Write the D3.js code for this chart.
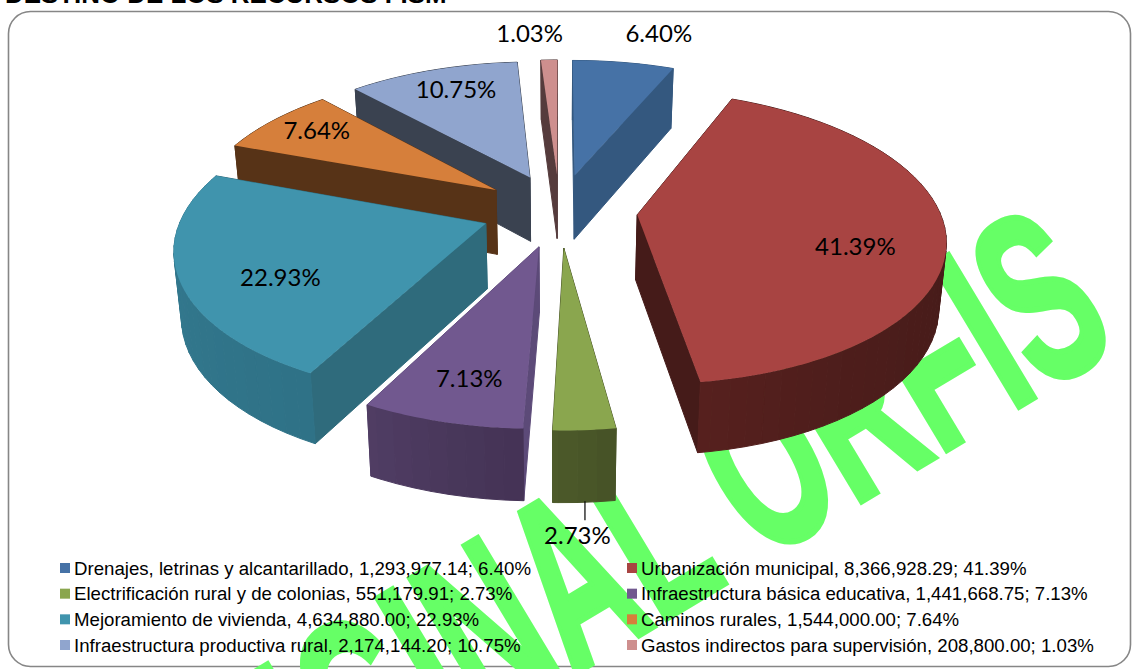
<!DOCTYPE html>
<html><head><meta charset="utf-8">
<script src="https://cdnjs.cloudflare.com/ajax/libs/d3/7.8.5/d3.min.js"></script>
<style>html,body{margin:0;padding:0;background:#fff;overflow:hidden}</style>
</head><body><svg id="c" width="1132" height="669"></svg>
<script>
const categories=["Drenajes, letrinas y alcantarillado","Urbanización municipal","Electrificación rural y de colonias","Infraestructura básica educativa","Mejoramiento de vivienda","Caminos rurales","Infraestructura productiva rural","Gastos indirectos para supervisión"];
const values=[1293977.14,8366928.29,551179.91,1441668.75,4634880.00,1544000.00,2174144.20,208800.00];
const valueLabels=["1,293,977.14","8,366,928.29","551,179.91","1,441,668.75","4,634,880.00","1,544,000.00","2,174,144.20","208,800.00"];
const percentLabels=["6.40%","41.39%","2.73%","7.13%","22.93%","7.64%","10.75%","1.03%"];
const topColors=["#4672A6","#A84442","#8AA64E","#71588F","#4094AD","#D67F3B","#90A5CE","#CE8F8E"];
const radialColors=["#34587F","#451B19","#4A5528","#5C4A78","#2F6B7C","#573317","#3A4250","#553B3C"];
const outerStart=["#34587F","#451B19","#465226","#443355","#2F7287","#573317","#3A4250","#553B3C"];
const outerEnd=["#34587F","#56201E","#4D5A2A","#503D64","#377F95","#573317","#3A4250","#553B3C"];
const labelNudge=[[51,-65],[19,19],[1,176],[-10,25],[-10,19],[-31,-13],[-8,-15],[-22,-63]];

const W=1132,H=669,cx=559.5,cy=210,R=302,explode=78,persp=.0005,tilt=.47,depth=65,bottomShrink=.98,labelFrac=.65;
const rad=Math.PI/180;
const svg=d3.select("#c");

// frame
svg.append("rect").attr("x",8.5).attr("y",11.5).attr("width",1122).attr("height",655).attr("rx",22)
  .attr("fill","#fff").attr("stroke","#868686").attr("stroke-width",1.6);
// clipped title
svg.append("text").attr("x",5).attr("y",3).attr("font-family","Liberation Sans").attr("font-weight","bold")
  .attr("font-size",25.9).attr("fill","#000").text("DESTINO DE LOS RECURSOS FISM");
// watermark
svg.append("text").attr("text-anchor","end")
  .attr("transform","translate(1122,345) rotate(-31) scale(.57,1)")
  .attr("font-family","Liberation Sans").attr("font-weight","bold").attr("font-size",242)
  .attr("fill","#66FF66").attr("stroke","#66FF66").attr("stroke-width",6)
  .text("ORIGINAL ORFIS");

const pie=d3.pie().sort(null).startAngle(0).endAngle(2*Math.PI);
const arcs=pie(values);
const line=d3.line();
function ground(a,r,t){
  const m=(a.startAngle+a.endAngle)/2;
  return {X:explode*Math.sin(m)+r*Math.sin(t),Y:explode*Math.cos(m)+r*Math.cos(t)};
}
function project(a,r,t,bottom){
  const g=ground(a,r,t),s=1/(1+persp*g.Y);
  const x=g.X*s*(bottom?bottomShrink:1), y=-tilt*g.Y*s+(bottom?depth*Math.sqrt(s):0);
  return [cx+x,cy+y];
}
const order=arcs.map((a,i)=>i).sort((p,q)=>ground(arcs[q],0,0).Y-ground(arcs[p],0,0).Y);
const gPie=svg.append("g");
order.forEach(i=>{
  const a=arcs[i],g=gPie.append("g");
  const fine=d3.range(a.startAngle,a.endAngle,rad).concat([a.endAngle]);
  const coarse=d3.range(a.startAngle,a.endAngle,3*rad).concat([a.endAngle]);
  const walls=[];
  [a.startAngle,a.endAngle].forEach(t=>{
    walls.push({pts:[project(a,0,t),project(a,R,t),project(a,R,t,true),project(a,0,t,true)],
      c:radialColors[i],Y:ground(a,R*.5,t).Y});
  });
  const col=d3.scalePow().exponent(4).domain([a.startAngle,a.endAngle]).range([outerStart[i],outerEnd[i]]);
  for(let k=0;k<coarse.length-1;k++){
    const t0=coarse[k],t1=coarse[k+1];
    walls.push({pts:[project(a,R,t0),project(a,R,t1),project(a,R,t1,true),project(a,R,t0,true)],
      c:col((t0+t1)/2),Y:ground(a,R,(t0+t1)/2).Y});
  }
  walls.sort((p,q)=>q.Y-p.Y).forEach(w=>{
    g.append("path").attr("d",line(w.pts)+"Z").attr("fill",w.c).attr("stroke",w.c).attr("stroke-width",1).attr("stroke-linejoin","round");
  });
  const topPts=[project(a,0,a.startAngle)].concat(fine.map(t=>project(a,R,t)));
  g.append("path").attr("d",line(topPts)+"Z").attr("fill",topColors[i]);
});
// data labels
arcs.forEach((a,i)=>{
  const m=(a.startAngle+a.endAngle)/2,p=project(a,R*labelFrac,m);
  svg.append("text").attr("x",p[0]+labelNudge[i][0]).attr("y",p[1]+labelNudge[i][1]).attr("dy",".35em")
    .attr("text-anchor","middle").attr("font-family","Lato").attr("font-size",24).attr("fill","#000").text(percentLabels[i]);
});
// leader for the small slice
const el=project(arcs[2],R,(arcs[2].startAngle+arcs[2].endAngle)/2,true);
svg.append("line").attr("x1",el[0]+1).attr("x2",el[0]+1).attr("y1",el[1]-1).attr("y2",el[1]+18).attr("stroke","#000").attr("stroke-width",1.2);
// legend
const rowY=d3.scalePoint().domain(d3.range(4)).range([568,645]);
const colX=d3.scalePoint().domain([0,1]).range([60,627]);
const lg=svg.append("g").selectAll("g").data(categories).join("g")
  .attr("transform",(d,i)=>`translate(${colX(i%2)},${rowY(Math.floor(i/2))})`);
lg.append("rect").attr("y",-5).attr("width",10).attr("height",10).attr("fill",(d,i)=>topColors[i]);
lg.append("text").attr("x",14).attr("dy",".36em").attr("font-family","Liberation Sans").attr("font-size",18.65).attr("fill","#000")
  .text((d,i)=>`${d}, ${valueLabels[i]}; ${percentLabels[i]}`);
</script></body></html>
